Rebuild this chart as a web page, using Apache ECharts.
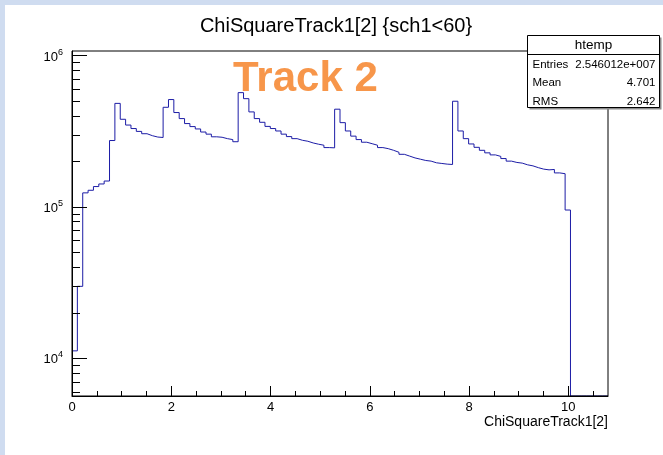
<!DOCTYPE html>
<html>
<head>
<meta charset="utf-8">
<script src="https://cdn.jsdelivr.net/npm/echarts@6/dist/echarts.min.js"></script>
<style>
  html, body { margin: 0; padding: 0; background: #ffffff; }
  #chart { width: 663px; height: 455px; }
</style>
</head>
<body>
<div id="chart"></div>
<script>
// Histogram of ChiSquareTrack1[2] for sch1<60: 100 equal bins over [0, 10.8]
const binCounts = [
  1.12e4, 2.99e4, 1.24e5, 1.29e5, 1.365e5, 1.42e5, 1.485e5, 2.75e5, 4.84e5, 3.80e5,
  3.48e5, 3.30e5, 3.16e5, 3.05e5, 2.96e5, 2.90e5, 2.88e5, 4.56e5, 5.13e5, 4.21e5,
  3.84e5, 3.56e5, 3.40e5, 3.28e5, 3.13e5, 3.03e5, 2.91e5, 2.89e5, 2.83e5, 2.79e5,
  2.70e5, 5.70e5, 5.20e5, 4.25e5, 3.84e5, 3.63e5, 3.41e5, 3.30e5, 3.18e5, 3.03e5,
  2.92e5, 2.83e5, 2.76e5, 2.72e5, 2.65e5, 2.60e5, 2.56e5, 2.47e5, 2.46e5, 4.43e5,
  3.61e5, 3.18e5, 2.94e5, 2.79e5, 2.68e5, 2.62e5, 2.56e5, 2.47e5, 2.43e5, 2.37e5,
  2.30e5, 2.23e5, 2.17e5, 2.11e5, 2.07e5, 2.03e5, 2.01e5, 1.96e5, 1.94e5, 1.92e5,
  1.91e5, 5.00e5, 3.18e5, 2.83e5, 2.61e5, 2.48e5, 2.37e5, 2.28e5, 2.21e5, 2.16e5,
  2.09e5, 2.01e5, 1.97e5, 1.95e5, 1.90e5, 1.87e5, 1.82e5, 1.78e5, 1.76e5, 1.77e5,
  1.68e5, 1.66e5, 9.55e4, 0, 0, 0, 0, 0, 0, 0
];

const xRange = [0, 10.8];
const yRange = [5636, 1.074e6];

const xMajorTicks = [0, 2, 4, 6, 8, 10];
const xMinorTicks = [0.5, 1, 1.5, 2.5, 3, 3.5, 4.5, 5, 5.5, 6.5, 7, 7.5, 8.5, 9, 9.5, 10.5];
const yMajorTicks = [1e4, 1e5, 1e6];
const yMinorTicks = [
  6e3, 7e3, 8e3, 9e3,
  2e4, 3e4, 4e4, 5e4, 6e4, 7e4, 8e4, 9e4,
  2e5, 3e5, 4e5, 5e5, 6e5, 7e5, 8e5, 9e5
];

const histTitle = 'ChiSquareTrack1[2] {sch1<60}';
const xTitle = 'ChiSquareTrack1[2]';
const overlayLabel = 'Track 2';
const statsName = 'htemp';
const statsRows = [
  ['Entries', '2.546012e+007'],
  ['Mean', '4.701'],
  ['RMS', '2.642']
];

const FONT = 'Liberation Sans, Arial, Helvetica, sans-serif';

// Step outline: one point per bin's lower edge, closing at the upper edge of the last bin.
// Empty bins sit on the floor of the log axis.
const binWidth = (xRange[1] - xRange[0]) / binCounts.length;
const stepPoints = binCounts.map((c, i) => [xRange[0] + i * binWidth, Math.max(c, yRange[0])]);
stepPoints.push([xRange[1], Math.max(binCounts[binCounts.length - 1], yRange[0])]);

const chart = echarts.init(document.getElementById('chart'), null, { renderer: 'canvas' });

const baseX = {
  type: 'value', min: xRange[0], max: xRange[1], position: 'bottom',
  splitLine: { show: false }, z: 5
};
const baseY = {
  type: 'log', logBase: 10, min: yRange[0], max: yRange[1], position: 'left',
  splitLine: { show: false }, minorTick: { show: false }, z: 5
};

const statsX = 527.5, statsY = 35.5, statsW = 132, statsH = 72;

const graphics = [
  // pale frame strips of the canvas
  { type: 'rect', shape: { x: 0, y: 0, width: 663, height: 5 }, style: { fill: '#cfdcf0' }, z: 0, silent: true },
  { type: 'rect', shape: { x: 0, y: 0, width: 5, height: 455 }, style: { fill: '#cfdcf0' }, z: 0, silent: true },
  // title
  { type: 'text', x: 336, y: 26, z: 20,
    style: { text: histTitle, font: '20px ' + FONT, fill: '#000', align: 'center', verticalAlign: 'middle' } },
  // x-axis title
  { type: 'text', x: 608, y: 422, z: 20,
    style: { text: xTitle, font: '14px ' + FONT, fill: '#000', align: 'right', verticalAlign: 'middle' } },
  // overlay label
  { type: 'text', x: 233, y: 79, z: 20,
    style: { text: overlayLabel, font: 'bold 42px ' + FONT, fill: '#f7964a', align: 'left', verticalAlign: 'middle' } },
  // statistics box with drop shadow
  { type: 'rect', shape: { x: statsX + 2, y: statsY + 2, width: statsW, height: statsH }, style: { fill: '#8a8a8a' }, z: 30 },
  { type: 'rect', shape: { x: statsX, y: statsY, width: statsW, height: statsH },
    style: { fill: '#fff', stroke: '#000', lineWidth: 1 }, z: 31 },
  { type: 'line', shape: { x1: statsX, y1: 54.5, x2: statsX + statsW, y2: 54.5 },
    style: { stroke: '#000', lineWidth: 1 }, z: 32 },
  { type: 'text', x: statsX + statsW / 2, y: 45, z: 33,
    style: { text: statsName, font: '13.5px ' + FONT, fill: '#000', align: 'center', verticalAlign: 'middle' } }
];
statsRows.forEach((row, i) => {
  const cy = 64.5 + i * 18.7;
  graphics.push({ type: 'text', x: statsX + 5, y: cy, z: 33,
    style: { text: row[0], font: '11.5px ' + FONT, fill: '#000', align: 'left', verticalAlign: 'middle' } });
  graphics.push({ type: 'text', x: statsX + statsW - 4, y: cy, z: 33,
    style: { text: row[1], font: '11.5px ' + FONT, fill: '#000', align: 'right', verticalAlign: 'middle' } });
});

chart.setOption({
  animation: false,
  backgroundColor: '#ffffff',
  grid: { left: 72, right: 55, top: 51, bottom: 59, show: true, borderColor: '#000', borderWidth: 1, z: 4 },
  xAxis: [
    Object.assign({}, baseX, {
      axisLine: { show: true, lineStyle: { color: '#000', width: 1 } },
      axisTick: { show: true, inside: true, length: 10, lineStyle: { color: '#000' }, customValues: xMajorTicks },
      axisLabel: { show: true, margin: 5, color: '#000', fontSize: 13, fontFamily: FONT, customValues: xMajorTicks }
    }),
    Object.assign({}, baseX, {
      axisLine: { show: false },
      axisTick: { show: true, inside: true, length: 5, lineStyle: { color: '#000' }, customValues: xMinorTicks },
      axisLabel: { show: false }
    })
  ],
  yAxis: [
    Object.assign({}, baseY, {
      axisLine: { show: true, lineStyle: { color: '#000', width: 1 } },
      axisTick: { show: true, inside: true, length: 15, lineStyle: { color: '#000' }, customValues: yMajorTicks },
      axisLabel: {
        show: true, margin: 9, color: '#000', fontFamily: FONT, customValues: yMajorTicks,
        formatter: v => '{b|10}{s|' + Math.round(Math.log10(v)) + '}',
        rich: {
          b: { fontSize: 13, fontFamily: FONT, color: '#000', lineHeight: 16, verticalAlign: 'bottom' },
          s: { fontSize: 9, fontFamily: FONT, color: '#000', lineHeight: 16, verticalAlign: 'top', padding: [0, 0, 6, 0] }
        }
      }
    }),
    Object.assign({}, baseY, {
      axisLine: { show: false },
      axisTick: { show: true, inside: true, length: 8, lineStyle: { color: '#000' }, customValues: yMinorTicks },
      axisLabel: { show: false }
    })
  ],
  series: [{
    type: 'line',
    xAxisIndex: 0, yAxisIndex: 0,
    step: 'end',
    symbol: 'none',
    data: stepPoints,
    clip: true,
    z: 1,
    lineStyle: { color: '#1c1ca6', width: 1 }
  }],
  graphic: graphics
});
</script>
</body>
</html>
